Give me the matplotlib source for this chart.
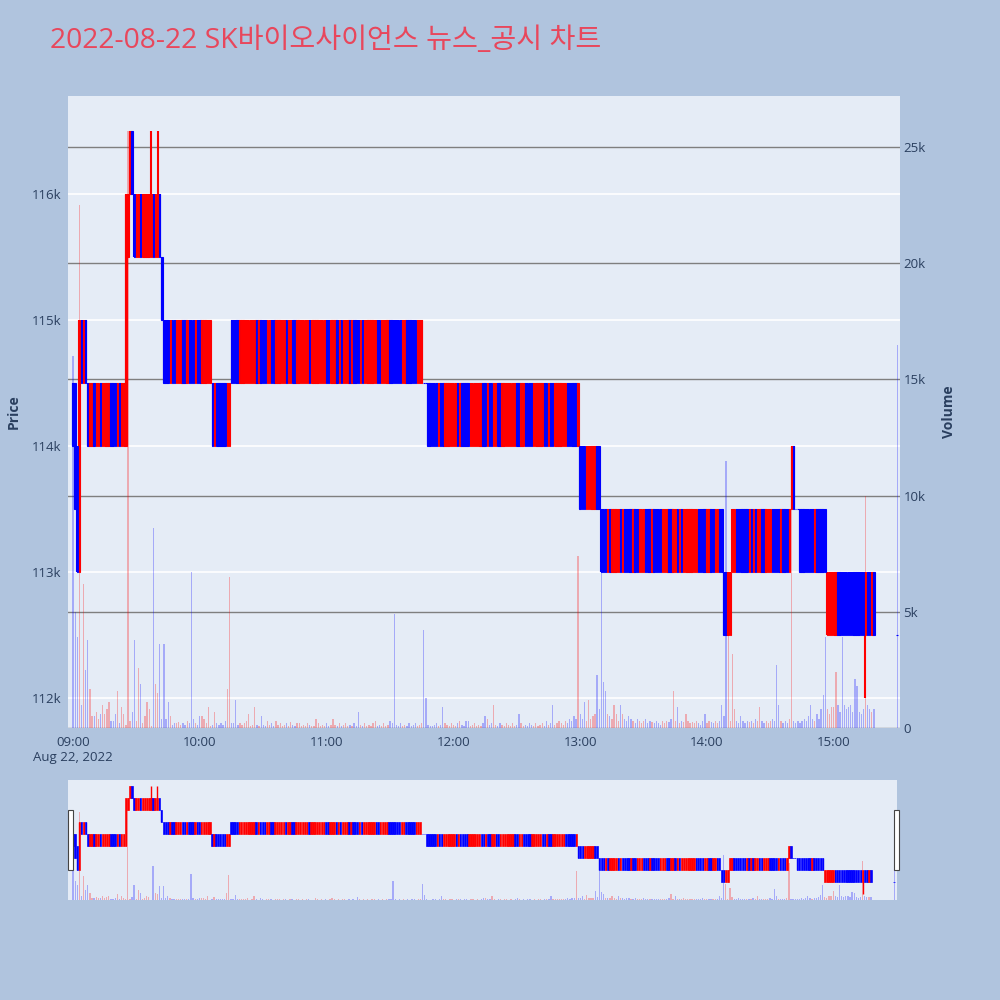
import matplotlib
matplotlib.use("Agg")
import matplotlib.pyplot as plt
import matplotlib.dates as mdates
import matplotlib.transforms as mtransforms
from matplotlib.colors import to_rgba
from matplotlib.patches import Rectangle
import pandas as pd

# NOTE: 1-minute candles of SK바이오사이언스 on 2022-08-22, with volume

TITLE = "2022-08-22 SK바이오사이언스 뉴스_공시 차트"

# candles 09:00 - 15:19 written as runs: (low, high, pattern)
# r = opens at low and closes at high, b = opens at high and closes at low, f = flat at low
runs = [
    (114000, 114500, "b"),
    (113500, 114500, "b"),
    (113000, 114000, "b"),
    (113000, 115000, "r"),
    (114500, 115000, "brb"),
    (114000, 114500, "b" "rrbrrbrrrrbbbrbrr"),
    (114000, 116000, "r"),
    (115500, 116000, "r"),
    (116000, 116500, "rb"),
    (115500, 116000, "b" "rrbrrrrrbrr" "b"),
    (115000, 115500, "b"),
    (114500, 115000, "b" "bbrbbrrrbbrbbbrbbrrrrr"),
    (114000, 114500, "brbbbbbrr"),
    (114500, 115000, "bbbb" "rrrrrrrr" "brb" "bb" "rr" "bb" "rrrrr" "b" "rr" "bb" "rr"
                     "rrrr" "b" "rrrrrrr" "bb" "rrr" "brb" "rrrbr" "bbb" "rbr" "rrrrr"
                     "bb" "rrrr" "bbbbbb" "rr" "bbbbb" "rrr"),
    (114500, 114500, "ff"),
    (114000, 114500, "bb" "bbb" "r" "bb" "rrrrr" "rbr" "b" "bbb" "r" "rrr" "rr" "bbrbb"
                     "rr" "bb" "rrrrrrr" "bb" "rr" "bbbb" "rrrrr" "bbrbb" "rrrrrr" "bbbbb" "r"),
    (113500, 114000, "bbbrrrrrbb"),
    (113000, 113500, "bbb" "rb" "rrrr" "br" "bbbb" "r" "bb" "rrr" "bbb" "rb" "bbb" "rrr"
                     "bb" "rr" "brbr" "rrrrrr" "bbbb" "rr" "bb" "rr" "bb"),
    (112500, 113000, "bbrr"),
    (113000, 113500, "r" "r" "bbbbbb" "r" "b" "r" "b" "rr" "bb" "rrr" "bbbb" "r" "bbb" "r"),
    (113500, 114000, "rb"),
    (113500, 113500, "ff"),
    (113000, 113500, "bbbbbbb" "r" "bbbbb"),
    (112500, 113000, "rrrrr" "bbbbbbbbbbbbb" "r" "bb" "r" "b"),
]
wick_high = {37: 116500, 40: 116500}
wick_low = {375: 112000}

# 15:30 closing auction
close_time = "2022-08-22 15:30"
close_price = 112500
close_volume = 16500

volume = [
    16000, 5000, 3900, 22500, 1000, 6200, 2500, 3800, 1700, 500,
    500, 700, 400, 600, 1000, 600, 800, 1100, 300, 300,
    600, 1600, 200, 900, 600, 150, 25700, 300, 700, 3800,
    300, 2600, 1900, 200, 500, 1100, 800, 100, 8600, 1900,
    1500, 3600, 400, 3600, 400, 1100, 500, 150, 200, 200,
    250, 150, 200, 150, 300, 200, 6700, 400, 200, 150,
    500, 500, 400, 200, 900, 100, 150, 700, 200, 150,
    200, 150, 300, 1700, 6500, 200, 200, 1200, 150, 200,
    150, 200, 300, 600, 100, 150, 900, 150, 100, 500,
    150, 100, 300, 150, 200, 100, 300, 150, 200, 100,
    150, 200, 100, 250, 150, 100, 200, 200, 100, 150,
    100, 200, 150, 100, 100, 400, 200, 100, 150, 100,
    200, 100, 150, 400, 150, 100, 200, 100, 150, 200,
    100, 150, 100, 200, 100, 700, 150, 100, 200, 100,
    150, 100, 200, 300, 100, 150, 100, 200, 100, 150,
    300, 200, 4900, 150, 100, 200, 100, 150, 100, 200,
    100, 150, 200, 100, 150, 200, 4200, 1300, 150, 100,
    100, 150, 200, 100, 150, 900, 200, 150, 100, 200,
    150, 100, 200, 300, 150, 100, 300, 300, 100, 150,
    200, 100, 150, 100, 200, 500, 400, 150, 200, 1000,
    150, 100, 200, 150, 100, 200, 150, 100, 200, 100,
    150, 600, 200, 100, 150, 100, 200, 150, 100, 200,
    100, 150, 200, 100, 300, 150, 200, 1000, 150, 200,
    300, 200, 150, 300, 200, 400, 300, 500, 400, 7400,
    600, 400, 1100, 300, 1200, 400, 500, 600, 2300, 800,
    7500, 2000, 1600, 600, 500, 400, 1000, 600, 300, 1000,
    600, 400, 300, 500, 400, 300, 200, 400, 300, 200,
    300, 400, 200, 300, 250, 200, 300, 200, 150, 300,
    200, 300, 250, 400, 1600, 300, 900, 200, 300, 250,
    600, 300, 200, 250, 200, 300, 200, 150, 300, 600,
    200, 300, 250, 200, 300, 200, 300, 1000, 500, 11500,
    4000, 300, 3200, 800, 300, 200, 500, 300, 200, 300,
    250, 300, 200, 400, 300, 900, 300, 200, 300, 200,
    300, 400, 300, 2700, 1000, 300, 200, 300, 200, 400,
    9500, 300, 200, 300, 200, 300, 400, 300, 500, 1000,
    400, 300, 600, 400, 800, 1400, 3900, 800, 600, 900,
    900, 2400, 1000, 700, 3900, 1000, 800, 900, 1000, 700,
    2100, 1800, 700, 600, 800, 10000, 1000, 800, 700, 800,
]

price_ticks = [112000, 113000, 114000, 115000, 116000]
volume_ticks = [0, 5000, 10000, 15000, 20000, 25000]
hour_labels = ["09:00\nAug 22, 2022", "10:00", "11:00", "12:00", "13:00", "14:00", "15:00"]

BG = "#B0C4DE"
PLOT_BG = "#E5ECF6"
TEXT = "#2a3f5f"
UP, DOWN = "#ff0000", "#0000ff"

plt.rcParams['font.family'] = ['Open Sans', 'Noto Sans CJK KR', 'DejaVu Sans']

# unpack the runs into ohlc
opens, closes = [], []
for lo, hi, pattern in runs:
    for ch in pattern:
        if ch == "r":
            opens.append(lo); closes.append(hi)
        elif ch == "b":
            opens.append(hi); closes.append(lo)
        else:
            opens.append(lo); closes.append(lo)
assert len(opens) == len(volume), (len(opens), len(volume))

times = list(pd.date_range("2022-08-22 09:00", periods=len(opens), freq="min"))
times.append(pd.Timestamp(close_time))
opens.append(close_price)
closes.append(close_price)
volume = volume + [close_volume]
highs = [max(o, c) for o, c in zip(opens, closes)]
lows = [min(o, c) for o, c in zip(opens, closes)]
for i, v in wick_high.items():
    highs[i] = v
for i, v in wick_low.items():
    lows[i] = v

x = mdates.date2num(times)
colors = [UP if c > o else DOWN for o, c in zip(opens, closes)]
fills = [to_rgba(c, 0.5) for c in colors]
MIN = 1 / 1440
xlim = (mdates.date2num(pd.Timestamp("2022-08-22 08:57:36")),
        mdates.date2num(pd.Timestamp("2022-08-22 15:31:20")))


def draw(ax_v, ax_p, body_lw, wick_lw, vol_w, vol_alpha):
    ax_v.bar(x, volume, width=vol_w * MIN, color=colors, alpha=vol_alpha, linewidth=0, zorder=2)
    ax_p.vlines(x, lows, highs, colors=colors, linewidth=wick_lw, zorder=3)
    ax_p.bar(x, [h - l for h, l in zip(closes, opens)], bottom=opens, width=0.7 * MIN,
             color=fills, edgecolor=colors, linewidth=body_lw, zorder=4)
    ax_v.set_xlim(*xlim)


fig = plt.figure(figsize=(10, 10), dpi=100, facecolor=BG)

# main chart: volume axis underneath, price axis on top of it
axv = fig.add_axes([0.068, 0.272, 0.832, 0.632])
axp = axv.twinx()
axv.set_facecolor(PLOT_BG)
axp.set_facecolor("none")
draw(axv, axp, 0.8, 1.5, 0.6, 0.28)

axv.set_ylim(0, 27200)
axp.set_ylim(111762, 116778)
axv.yaxis.tick_right()
axv.yaxis.set_label_position("right")
axp.yaxis.tick_left()
axp.yaxis.set_label_position("left")

axv.set_yticks(volume_ticks)
axv.set_yticklabels(["0" if v == 0 else f"{v // 1000}k" for v in volume_ticks])
axp.set_yticks(price_ticks)
axp.set_yticklabels([f"{p // 1000}k" for p in price_ticks])
axv.grid(axis="y", color="#7f7f7f", linewidth=1, zorder=0)
axv.set_axisbelow(True)
price_tf = mtransforms.blended_transform_factory(axv.transAxes, axp.transData)
for p in price_ticks:
    axv.plot([0, 1], [p, p], transform=price_tf, color="white", linewidth=1.2, zorder=1)

axv.set_xticks(mdates.date2num([pd.Timestamp(f"2022-08-22 {h:02d}:00") for h in range(9, 16)]))
axv.set_xticklabels(hour_labels)

for ax in (axv, axp):
    for s in ax.spines.values():
        s.set_visible(False)
    ax.tick_params(length=0, labelsize=9.5, labelcolor=TEXT)
axp.tick_params(axis="y", pad=5)
axv.tick_params(axis="y", pad=2.5)
axv.tick_params(axis="x", pad=6)

axp.set_ylabel("Price", fontsize=10, fontweight="bold", color=TEXT, labelpad=8)
axv.set_ylabel("Volume", fontsize=10, fontweight="bold", color=TEXT, labelpad=12)

fig.text(0.05, 0.959, TITLE, fontsize=20.3, color="#e8475c", va="center", ha="left")

# range slider
sv = fig.add_axes([0.068, 0.1, 0.829, 0.12])
sp = sv.twinx()
sv.set_facecolor(PLOT_BG)
sp.set_facecolor("none")
draw(sv, sp, 0.5, 1.0, 0.6, 0.28)
sv.set_ylim(0, 30800)
sp.set_ylim(111750, 116750)
for ax in (sv, sp):
    ax.set_xticks([])
    ax.set_yticks([])
    for s in ax.spines.values():
        s.set_visible(False)
for hx in (0.0, 0.9965):
    sp.add_patch(Rectangle((hx, 0.25), 0.0055, 0.5, transform=sp.transAxes,
                           facecolor="white", edgecolor="#444444", linewidth=0.8,
                           clip_on=False, zorder=6))

fig.savefig("out.png", dpi=100, facecolor=BG)
